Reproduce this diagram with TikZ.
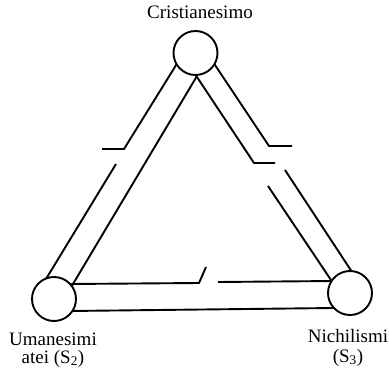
\documentclass[tikz,border=0pt]{standalone}
\usepackage{fontspec}
\setmainfont{Liberation Serif}
\begin{document}
\begin{tikzpicture}[x=1pt,y=-1pt,
  band/.style={line width=1.9pt, line join=miter},
  circ/.style={circle, draw, line width=1.9pt, fill=white, minimum size=44pt, inner sep=0pt},
  lab/.style={font=\fontsize{19}{18}\selectfont, inner sep=0pt, align=center}]
\useasboundingbox (0,0) rectangle (389,372);
% left band
\coordinate (lo1) at (178,62);
\coordinate (lo2) at (124,149);
\coordinate (lo3) at (102,149);
\coordinate (lo4) at (116,164);
\coordinate (lo5) at (46,279);
\coordinate (li1) at (197,76);
\coordinate (li2) at (70,289);
\draw[band] (lo1) -- (lo2) -- (lo3);
\draw[band] (lo4) -- (lo5);
\draw[band] (li1) -- (li2);
% right band
\coordinate (ri1) at (195,74);
\coordinate (ri2) at (254,163);
\coordinate (ri3) at (275,163);
\coordinate (ri4) at (268,186);
\coordinate (ri5) at (333,283);
\coordinate (ro1) at (213,62);
\coordinate (ro2) at (269,146);
\coordinate (ro3) at (292,146);
\coordinate (ro4) at (285,170);
\coordinate (ro5) at (354,275);
\draw[band] (ri1) -- (ri2) -- (ri3);
\draw[band] (ri4) -- (ri5);
\draw[band] (ro1) -- (ro2) -- (ro3);
\draw[band] (ro4) -- (ro5);
% bottom band
\coordinate (bu1) at (70,284);
\coordinate (bu2) at (199,283);
\coordinate (bu3) at (206,267);
\coordinate (bu4) at (218,282);
\coordinate (bu5) at (334,281);
\coordinate (bl1) at (70,311);
\coordinate (bl2) at (334,308);
\draw[band] (bu1) -- (bu2) -- (bu3);
\draw[band] (bu4) -- (bu5);
\draw[band] (bl1) -- (bl2);
% circles
\node[circ] (c1) at (195.5,53) {};
\node[circ] (s2) at (54,299) {};
\node[circ] (s3) at (350,293) {};
% labels
\node[lab, anchor=base] (t1) at (200,18) {Cristianesimo};
\node[lab, anchor=base] (t2) at (53,363) {Umanesimi\\atei (S\textsubscript{2})};
\node[lab, anchor=base, font=\fontsize{19}{20}\selectfont] (t4) at (348,362) {Nichilismi\\(S\textsubscript{3})};
\end{tikzpicture}
\end{document}
